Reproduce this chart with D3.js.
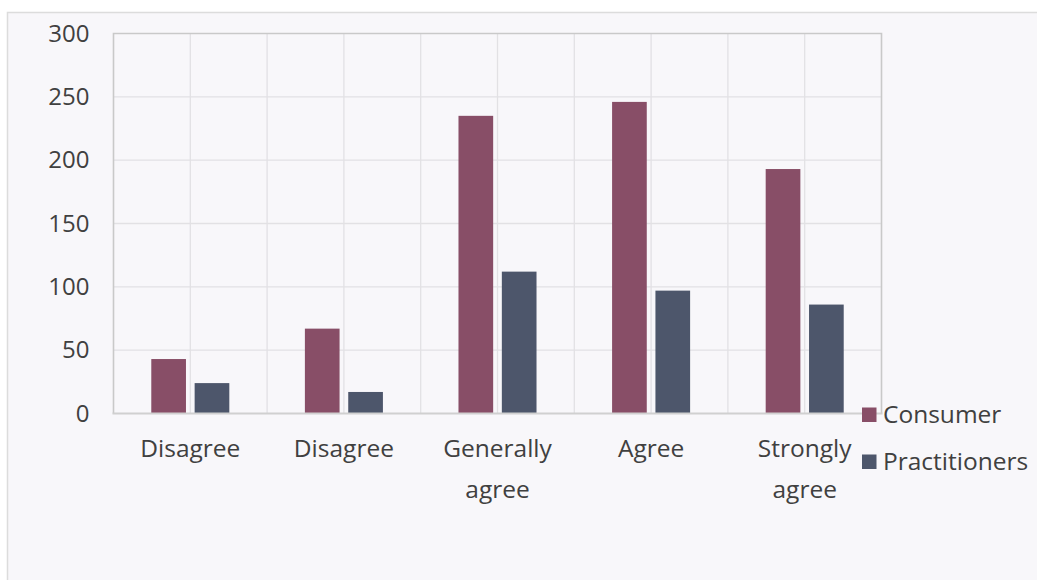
<!DOCTYPE html>
<html>
<head>
<meta charset="utf-8">
<script src="https://cdn.jsdelivr.net/npm/d3@7"></script>
<style>
  html, body { margin: 0; padding: 0; background: #ffffff; }
  svg { display: block; }
  text { font-family: "Open Sans", "Noto Sans", sans-serif; fill: #404040; }
</style>
</head>
<body>
<svg id="chart" width="1037" height="580"></svg>
<script>
// Survey responses by agreement level
const categories = ["Disagree", "Disagree", "Generally agree", "Agree", "Strongly agree"];
const seriesNames = ["Consumer", "Practitioners"];
const consumerValues = [43, 67, 235, 246, 193];
const practitionerValues = [24, 17, 112, 97, 86];
const yTicks = [0, 50, 100, 150, 200, 250, 300];
const seriesColors = ["#884e67", "#4d566b"];

const seriesValues = [consumerValues, practitionerValues];

const svg = d3.select("#chart");
const W = 1037, H = 580;
const plot = { left: 113.5, right: 881.5, top: 33.5, bottom: 413.5 };

// chart frame
svg.append("rect")
  .attr("x", 7.5).attr("y", 12.5)
  .attr("width", W).attr("height", H)
  .attr("fill", "#f8f7fa")
  .attr("stroke", "#dcdcdc").attr("stroke-width", 1.5);

const x = d3.scaleBand()
  .domain(categories.map((_, i) => i))
  .range([plot.left, plot.right])
  .paddingInner(0).paddingOuter(0);

const groupWidth = x.bandwidth() * 0.508;
const xInner = d3.scaleBand()
  .domain(seriesNames)
  .range([(x.bandwidth() - groupWidth) / 2, (x.bandwidth() + groupWidth) / 2])
  .paddingInner(0.2).paddingOuter(0);

const y = d3.scaleLinear().domain([0, 300]).range([plot.bottom, plot.top]);

// horizontal gridlines
svg.append("g")
  .selectAll("line")
  .data(yTicks.filter(t => t > 0 && t < 300))
  .join("line")
  .attr("x1", plot.left).attr("x2", plot.right)
  .attr("y1", d => y(d)).attr("y2", d => y(d))
  .attr("stroke", "#e2e1e4").attr("stroke-width", 1.3);

// vertical gridlines at band edges and centres
const vLines = [];
categories.forEach((_, i) => {
  if (i > 0) vLines.push(x(i));
  vLines.push(x(i) + x.bandwidth() / 2);
});
svg.append("g")
  .selectAll("line")
  .data(vLines)
  .join("line")
  .attr("x1", d => d).attr("x2", d => d)
  .attr("y1", plot.top).attr("y2", plot.bottom)
  .attr("stroke", "#e2e1e4").attr("stroke-width", 1.3);

// plot border (left, top, right)
svg.append("path")
  .attr("d", `M${plot.left},${plot.bottom}V${plot.top}H${plot.right}V${plot.bottom}`)
  .attr("fill", "none")
  .attr("stroke", "#c9c9c9").attr("stroke-width", 1.6);

// bars
const groups = svg.append("g")
  .selectAll("g")
  .data(categories.map((c, i) => i))
  .join("g")
  .attr("transform", i => `translate(${x(i)},0)`);

groups.selectAll("rect")
  .data(i => seriesNames.map((s, k) => ({ s, k, v: seriesValues[k][i] })))
  .join("rect")
  .attr("x", d => xInner(d.s))
  .attr("width", xInner.bandwidth())
  .attr("y", d => y(d.v))
  .attr("height", d => y(0) - y(d.v))
  .attr("fill", d => seriesColors[d.k]);

// category axis line
svg.append("line")
  .attr("x1", plot.left - 1).attr("x2", plot.right + 1)
  .attr("y1", plot.bottom).attr("y2", plot.bottom)
  .attr("stroke", "#d0d0d0").attr("stroke-width", 2);

// y axis labels
const yAxis = d3.axisLeft(y).tickValues(yTicks).tickSize(0).tickPadding(24);
const gy = svg.append("g").attr("transform", `translate(${plot.left},0)`).call(yAxis);
gy.select(".domain").remove();
gy.selectAll("text")
  .attr("font-size", 24)
  .attr("font-family", "\"Open Sans\", \"Noto Sans\", sans-serif")
  .attr("fill", "#404040");

// category labels, wrapped on spaces
const catLabels = svg.append("g")
  .selectAll("text")
  .data(categories.map((c, i) => ({ c, i })))
  .join("text")
  .attr("text-anchor", "middle")
  .attr("font-size", 24.5)
  .attr("x", d => x(d.i) + x.bandwidth() / 2)
  .attr("y", 456.5);
catLabels.selectAll("tspan")
  .data(d => d.c.split(" ").map(w => ({ w, cx: x(d.i) + x.bandwidth() / 2 })))
  .join("tspan")
  .attr("x", d => d.cx)
  .attr("dy", (d, j) => j === 0 ? 0 : 41)
  .text(d => d.w);

// legend
const legend = svg.append("g")
  .selectAll("g")
  .data(seriesNames)
  .join("g")
  .attr("transform", (d, k) => `translate(862,${407.5 + k * 47})`);
legend.append("rect")
  .attr("width", 14.5).attr("height", 14.5)
  .attr("fill", (d, k) => seriesColors[k]);
legend.append("text")
  .attr("x", 21).attr("y", 15)
  .attr("font-size", 24.5)
  .text(d => d);
</script>
</body>
</html>
